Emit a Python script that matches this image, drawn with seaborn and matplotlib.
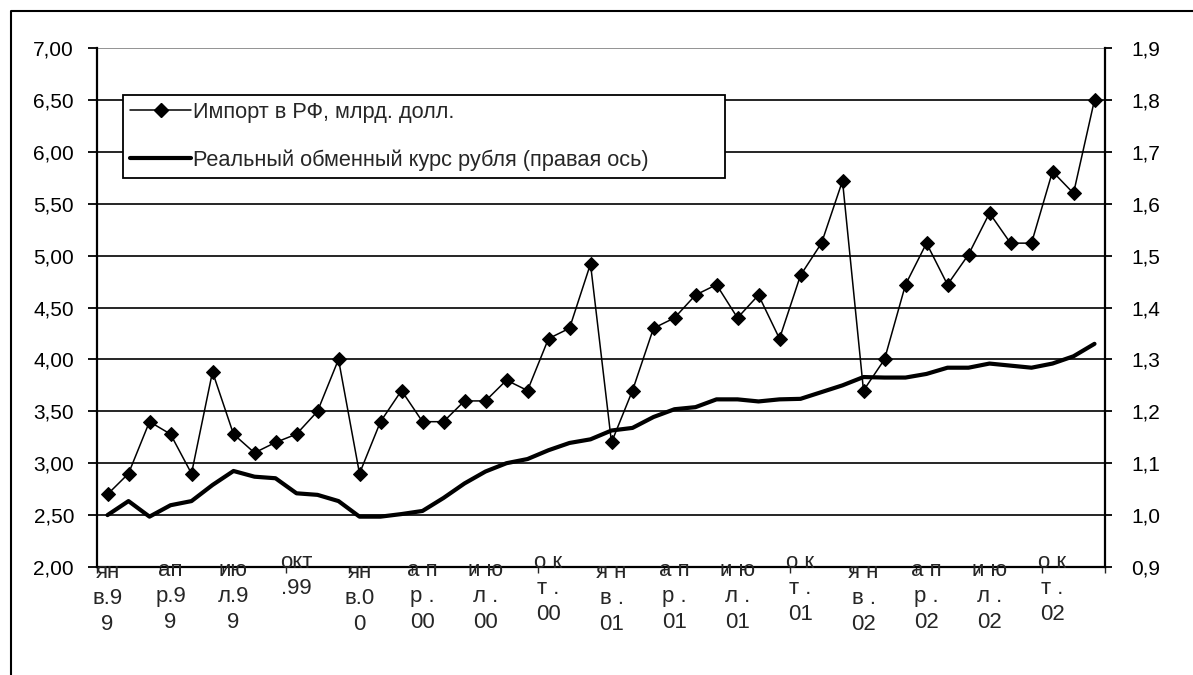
import numpy as np
import pandas as pd
import matplotlib
matplotlib.use("Agg")
import matplotlib.pyplot as plt
import matplotlib.transforms as mtransforms
from matplotlib.lines import Line2D
import seaborn as sns

# Monthly data, January 1999 – December 2002
months = pd.period_range("1999-01", "2002-12", freq="M").astype(str)

import_bln_usd = [
    2.70, 2.90, 3.40, 3.28, 2.90, 3.88, 3.28, 3.10, 3.20, 3.28, 3.50, 4.00,
    2.90, 3.40, 3.70, 3.40, 3.40, 3.60, 3.60, 3.80, 3.70, 4.20, 4.30, 4.92,
    3.20, 3.70, 4.30, 4.40, 4.62, 4.72, 4.40, 4.62, 4.20, 4.81, 5.12, 5.72,
    3.70, 4.00, 4.72, 5.12, 4.72, 5.01, 5.41, 5.12, 5.12, 5.81, 5.60, 6.50,
]

real_rate = [
    1.000, 1.027, 0.997, 1.019, 1.027, 1.058, 1.085, 1.074, 1.071, 1.042, 1.039, 1.027,
    0.997, 0.997, 1.002, 1.008, 1.033, 1.061, 1.084, 1.100, 1.108, 1.125, 1.139, 1.146,
    1.163, 1.168, 1.189, 1.204, 1.208, 1.223, 1.223, 1.219, 1.223, 1.224, 1.237, 1.250,
    1.266, 1.265, 1.265, 1.272, 1.284, 1.284, 1.292, 1.288, 1.284, 1.292, 1.306, 1.330,
]

# Quarter labels, wrapped the way the spreadsheet wrapped them
quarter_labels = [
    "ян\nв.9\n9", "ап\nр.9\n9", "ию\nл.9\n9", "окт\n.99",
    "ян\nв.0\n0", "а п\nр .\n00", "и ю\nл .\n00", "о к\nт .\n00",
    "я н\nв .\n01", "а п\nр .\n01", "и ю\nл .\n01", "о к\nт .\n01",
    "я н\nв .\n02", "а п\nр .\n02", "и ю\nл .\n02", "о к\nт .\n02",
]

left_ticks = [2.0, 2.5, 3.0, 3.5, 4.0, 4.5, 5.0, 5.5, 6.0, 6.5, 7.0]
right_ticks = [0.9, 1.0, 1.1, 1.2, 1.3, 1.4, 1.5, 1.6, 1.7, 1.8, 1.9]

series_names = [
    "Импорт в РФ, млрд. долл.",
    "Реальный обменный курс рубля (правая ось)",
]

df = pd.DataFrame({
    "month": months,
    "pos": np.arange(len(months)),
    "imp": import_bln_usd,
    "rate": real_rate,
})

sns.set_style("white")
plt.rcParams["font.family"] = ["Liberation Sans", "DejaVu Sans"]
plt.rcParams["font.size"] = 15

W, H = 1193, 675
fig = plt.figure(figsize=(W / 100, H / 100), dpi=100)
ax = fig.add_axes([97 / W, 1 - 567 / H, 1008 / W, 519 / H])
ax2 = ax.twinx()

imp_kw = dict(color="black", lw=1.1, marker="D", markersize=7.0,
              markeredgecolor="black", markerfacecolor="black")
rate_kw = dict(color="black", lw=3.0)

sns.lineplot(data=df, x="pos", y="imp", ax=ax, legend=False, **imp_kw)
sns.lineplot(data=df, x="pos", y="rate", ax=ax2, legend=False, **rate_kw)

# Axes ranges and ticks
ax.set_xlim(-0.5, len(months) - 0.5)
ax.set_ylim(left_ticks[0], left_ticks[-1])
ax2.set_ylim(right_ticks[0], right_ticks[-1])

ax.set_yticks(left_ticks)
ax.set_yticklabels([f"{v:.2f}".replace(".", ",") for v in left_ticks])
ax2.set_yticks(right_ticks)
ax2.set_yticklabels([f"{v:.1f}".replace(".", ",") for v in right_ticks])

ax.set_xticks(np.arange(-0.5, len(months), 3))
ax.set_xticklabels([])
ax.set_xlabel("")
ax.set_ylabel("")
ax2.set_ylabel("")

ax.tick_params(axis="y", direction="out", length=6.5, width=1.3, pad=10,
               labelsize=15, left=True, colors="black")
ax.tick_params(axis="x", direction="out", length=4, width=1.0, bottom=True)
ax2.tick_params(axis="y", direction="out", length=5, width=1.3, pad=14,
                labelsize=15, right=True, colors="black")

# Horizontal gridlines
ax.grid(axis="y", color="black", lw=1.2)
ax.grid(axis="x", visible=False)
ax.get_ygridlines()[-1].set_color("#808080")

for a in (ax, ax2):
    a.spines["top"].set_visible(False)
ax.spines["left"].set_linewidth(1.6)
ax.spines["bottom"].set_linewidth(1.6)
ax.spines["right"].set_visible(False)
ax2.spines["left"].set_visible(False)
ax2.spines["bottom"].set_visible(False)
ax2.spines["right"].set_linewidth(1.6)
for a in (ax, ax2):
    for s in a.spines.values():
        s.set_color("black")

# Wrapped category labels under the axis
base = mtransforms.blended_transform_factory(ax.transData, ax.transAxes)
raise_px = {"jan": 5, "apr": 7, "jul": 7, "oct": 15}
quarter_of = ["jan", "apr", "jul", "oct"]
for i, lab in enumerate(quarter_labels):
    q = quarter_of[i % 4]
    tr = mtransforms.offset_copy(base, fig=fig, x=0, y=raise_px[q], units="dots")
    ax.text(df["pos"].iloc[i * 3], 0, lab, transform=tr, ha="center", va="top",
            fontsize=16, linespacing=1.3, clip_on=False)

# Legend
handles = [Line2D([], [], **imp_kw), Line2D([], [], **rate_kw)]
x0 = (123 - 97) / 1008
x1 = (725 - 97) / 1008
y1 = (567 - 95) / 519
y0 = (567 - 178) / 519
leg = ax2.legend(handles, series_names, loc="upper left",
                 bbox_to_anchor=(x0, y0, x1 - x0, y1 - y0), mode="expand",
                 frameon=True, fancybox=False, framealpha=1, edgecolor="black",
                 facecolor="white", handlelength=2.8, handletextpad=0.1,
                 borderpad=0.32, labelspacing=1.2, borderaxespad=0,
                 fontsize=15.7)
leg.get_frame().set_linewidth(1.3)

# Outer frame of the chart area
fig.add_artist(Line2D([10.5 / W, 10.5 / W, 1.0], [0.0, 1 - 10.5 / H, 1 - 10.5 / H],
                      transform=fig.transFigure, color="black", lw=1.5))

fig.savefig("out.png", dpi=100)
